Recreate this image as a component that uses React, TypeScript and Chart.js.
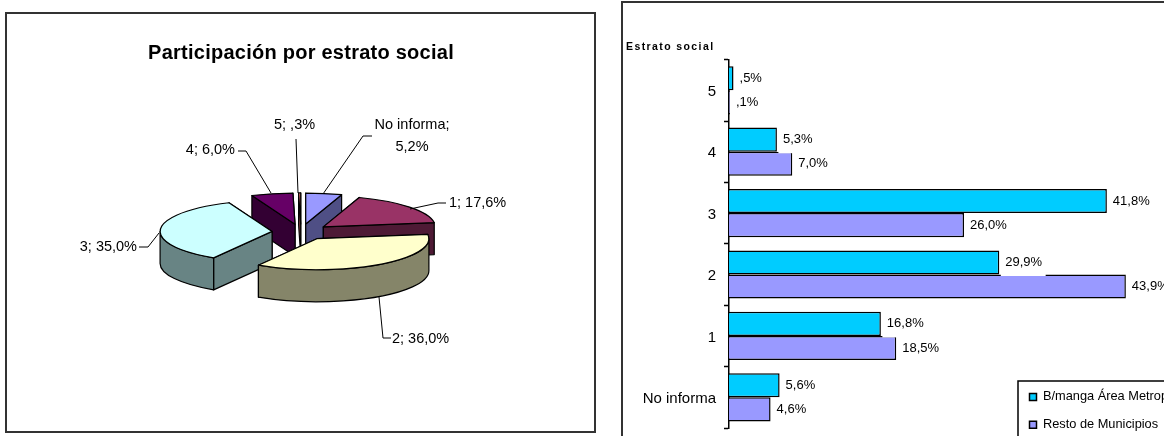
import React, { useEffect, useRef } from "react";
import { Chart, registerables } from "chart.js";

Chart.register(...registerables);

const FONT = '"Liberation Sans", Arial, sans-serif';

// ---- Data: share by stratum (pie)
const pieCategories = ["No informa", "1", "2", "3", "4", "5"];
const pieValues = [5.2, 17.6, 36.0, 35.0, 6.0, 0.3];
const pieColors = ["#9999FF", "#993366", "#FFFFCC", "#CCFFFF", "#660066", "#FF8080"];
const pieWallColors = ["#4F4F85", "#4E1A35", "#858569", "#688484", "#330033", "#804040"];

// ---- Data: by stratum and region (bars)
const barCategories = ["5", "4", "3", "2", "1", "No informa"];
const metroValues = [0.5, 5.3, 41.8, 29.9, 16.8, 5.6];
const restValues = [0.1, 7.0, 26.0, 43.9, 18.5, 4.6];
const metroLabel = "B/manga Área Metropolitana";
const restLabel = "Resto de Municipios";

// ---- Layout only (page pixels)
const LEFT_ORIGIN = { x: 6, y: 13, w: 590, h: 421 };
const RIGHT_ORIGIN = { x: 623, y: 3, w: 620, h: 480 };
const PIE_RADIUS = 112;
const PIE_TILT = 0.277;
const PIE_DEPTH = 32;
const PIE_EXPLODE = 29;

type Callout = { text: [number, number, string][]; line: [number, number][] };
const pieCallouts: Record<string, Callout> = {
  "No informa": { text: [[412, 125, "center"], [412, 147, "center"]], line: [[372, 136], [363, 136], [323, 194]] },
  "1": { text: [[449, 203, "left"]], line: [[446, 203], [438, 203], [410, 209]] },
  "2": { text: [[392, 339, "left"]], line: [[391, 338], [383, 338], [379, 297]] },
  "3": { text: [[137, 247, "right"]], line: [[139, 247], [148, 247], [159, 233]] },
  "4": { text: [[235, 150, "right"]], line: [[238, 151], [246, 151], [271, 193]] },
  "5": { text: [[274, 125, "left"]], line: [[296, 139], [298, 193]] },
};

const fmt = (v: number) => {
  const s = v.toFixed(1).replace(".", ",");
  return (s.startsWith("0") ? s.slice(1) : s) + "%";
};

const spacedTitle = (spacing: string) => ({
  id: "spacedTitle",
  beforeDraw(chart: any) {
    const tb = chart.titleBlock;
    if (!tb || tb.__patched) return;
    const orig = tb.draw.bind(tb);
    tb.__patched = true;
    tb.draw = (...args: any[]) => {
      const c = chart.ctx as any;
      c.save();
      c.letterSpacing = spacing;
      orig(...args);
      c.restore();
    };
  },
});

const pie3D = {
  id: "pie3D",
  beforeDatasetDraw(chart: any, args: any) {
    const ctx = chart.ctx as CanvasRenderingContext2D;
    const arcs: any[] = args.meta.data;
    const k = PIE_TILT;
    const info = arcs.map((el, i) => {
      const p = el.getProps(["x", "y", "startAngle", "endAngle", "outerRadius"], true);
      const mid = (p.startAngle + p.endAngle) / 2;
      const dx = Math.cos(mid) * PIE_EXPLODE;
      const dy = Math.sin(mid) * PIE_EXPLODE;
      return { el, i, ...p, dx, dy, cx: p.x + dx, cy: p.y + dy * k };
    });
    info.sort((a, b) => a.cy - b.cy);
    ctx.save();
    ctx.lineJoin = "round";
    ctx.lineWidth = 1.2;
    ctx.strokeStyle = "#000";
    for (const s of info) {
      const R = s.outerRadius;
      const pt = (t: number) => [s.cx + Math.cos(t) * R, s.cy + Math.sin(t) * R * k];
      ctx.fillStyle = pieWallColors[s.i];
      const faces = [s.startAngle, s.endAngle]
        .map((t) => ({ t, my: (s.cy + pt(t)[1]) / 2 }))
        .sort((a, b) => a.my - b.my);
      for (const f of faces) {
        const [x, y] = pt(f.t);
        ctx.beginPath();
        ctx.moveTo(s.cx, s.cy);
        ctx.lineTo(x, y);
        ctx.lineTo(x, y + PIE_DEPTH);
        ctx.lineTo(s.cx, s.cy + PIE_DEPTH);
        ctx.closePath();
        ctx.fill();
        ctx.stroke();
      }
      const a = Math.max(s.startAngle, 0);
      const b = Math.min(s.endAngle, Math.PI);
      if (b > a) {
        ctx.beginPath();
        ctx.ellipse(s.cx, s.cy, R, R * k, 0, a, b);
        ctx.ellipse(s.cx, s.cy + PIE_DEPTH, R, R * k, 0, b, a, true);
        ctx.closePath();
        ctx.fill();
        ctx.stroke();
      }
      ctx.save();
      ctx.translate(s.x, s.y);
      ctx.scale(1, k);
      ctx.translate(-s.x + s.dx, -s.y + s.dy);
      s.el.draw(ctx);
      ctx.restore();
      ctx.beginPath();
      ctx.moveTo(s.cx, s.cy);
      ctx.ellipse(s.cx, s.cy, R, R * k, 0, s.startAngle, s.endAngle);
      ctx.closePath();
      ctx.stroke();
    }
    ctx.restore();
    return false;
  },
  afterDraw(chart: any) {
    const ctx = chart.ctx as CanvasRenderingContext2D;
    ctx.save();
    ctx.font = `14.5px ${FONT}`;
    ctx.fillStyle = "#000";
    ctx.strokeStyle = "#000";
    ctx.lineWidth = 1;
    ctx.textBaseline = "middle";
    pieCategories.forEach((cat, i) => {
      const c = pieCallouts[cat];
      const full = `${cat}; ${fmt(pieValues[i])}`;
      const parts = c.text.length === 2 ? [`${cat};`, fmt(pieValues[i])] : [full];
      parts.forEach((t, j) => {
        const [x, y, align] = c.text[j];
        ctx.textAlign = align as CanvasTextAlign;
        ctx.fillText(t, x - LEFT_ORIGIN.x, y - LEFT_ORIGIN.y);
      });
      ctx.beginPath();
      c.line.forEach(([x, y], j) => {
        const px = x - LEFT_ORIGIN.x;
        const py = y - LEFT_ORIGIN.y;
        if (j === 0) ctx.moveTo(px, py);
        else ctx.lineTo(px, py);
      });
      ctx.stroke();
    });
    ctx.restore();
  },
};

const barLabels = {
  id: "barLabels",
  afterLayout(chart: any) {
    const l = chart.legend;
    if (!l) return;
    l.left = 391.5;
    l.right = 617;
    l.top = 372.5;
    l.bottom = 478;
    l.width = l.right - l.left;
    l.height = l.bottom - l.top;
  },
  afterDatasetsDraw(chart: any) {
    const ctx = chart.ctx as CanvasRenderingContext2D;
    ctx.save();
    ctx.font = `13px ${FONT}`;
    ctx.textBaseline = "middle";
    ctx.textAlign = "left";
    chart.data.datasets.forEach((ds: any, di: number) => {
      chart.getDatasetMeta(di).data.forEach((el: any, i: number) => {
        const t = fmt(ds.data[i]);
        const x = el.x + 6;
        if (di === 0) {
          ctx.fillStyle = "#fff";
          ctx.fillRect(el.x + 1.5, el.y - 10, ctx.measureText(t).width + 8, el.height / 2 + 11.5);
        }
        ctx.fillStyle = "#000";
        ctx.fillText(t, x, el.y);
      });
    });
    ctx.restore();
  },
  afterDraw(chart: any) {
    const ctx = chart.ctx as CanvasRenderingContext2D;
    ctx.save();
    ctx.strokeStyle = "#000";
    ctx.lineWidth = 1.5;
    ctx.strokeRect(395, 378, 400, 200);
    ctx.restore();
  },
};

const frame = (o: { x: number; y: number; w: number; h: number }): React.CSSProperties => ({
  position: "absolute",
  left: o.x,
  top: o.y,
  width: o.w,
  height: o.h,
  display: "block",
});

export default function App() {
  const pieRef = useRef<HTMLCanvasElement>(null);
  const barRef = useRef<HTMLCanvasElement>(null);

  useEffect(() => {
    const pie = new Chart(pieRef.current!, {
      type: "pie",
      data: {
        labels: pieCategories,
        datasets: [
          {
            data: pieValues,
            backgroundColor: pieColors,
            borderWidth: 0,
          },
        ],
      },
      options: {
        animation: false,
        responsive: false,
        radius: PIE_RADIUS,
        layout: { padding: { bottom: 43 } },
        plugins: {
          legend: { display: false },
          tooltip: { enabled: false },
          title: {
            display: true,
            text: "Participación por estrato social",
            color: "#000",
            font: { family: FONT, size: 20, weight: "bold" },
            padding: { top: 28, bottom: 8 },
          },
        },
      },
      plugins: [pie3D, spacedTitle("0.25px")],
    } as any);

    const bar = new Chart(barRef.current!, {
      type: "bar",
      data: {
        labels: barCategories,
        datasets: [
          {
            label: metroLabel,
            data: metroValues,
            backgroundColor: "#00CCFF",
            borderColor: "#000",
            borderWidth: 1.5,
          },
          {
            label: restLabel,
            data: restValues,
            backgroundColor: "#9999FF",
            borderColor: "#000",
            borderWidth: 1.5,
          },
        ],
      },
      options: {
        animation: false,
        responsive: false,
        indexAxis: "y",
        layout: { padding: { left: 3, right: 62, bottom: 55 } },
        datasets: { bar: { categoryPercentage: 0.785, barPercentage: 1 } },
        scales: {
          x: { display: false, min: 0, max: 50 },
          y: {
            afterFit: (s: any) => {
              s.width = 103;
            },
            border: { color: "#000", width: 1.5 },
            grid: {
              offset: true,
              drawOnChartArea: false,
              drawTicks: true,
              tickLength: 5,
              tickColor: "#000",
              tickWidth: 1.5,
            },
            ticks: {
              color: "#000",
              padding: 8,
              labelOffset: 1.5,
              font: { family: FONT, size: 15 },
            },
          },
        },
        plugins: {
          tooltip: { enabled: false },
          title: {
            display: true,
            text: "Estrato social",
            align: "start",
            color: "#000",
            font: { family: FONT, size: 10.5, weight: "bold" },
            padding: { top: 38, bottom: 6 },
          },
          legend: {
            display: true,
            position: "chartArea",
            align: "start",
            labels: {
              boxWidth: 7,
              boxHeight: 7,
              padding: 15,
              color: "#000",
              font: { family: FONT, size: 12.8 },
            },
          },
        },
      },
      plugins: [barLabels, spacedTitle("1.4px")],
    } as any);

    return () => {
      pie.destroy();
      bar.destroy();
    };
  }, []);

  return (
    <div
      style={{
        position: "fixed",
        left: 0,
        top: 0,
        width: 1164,
        height: 436,
        overflow: "hidden",
        background: "#fff",
      }}
    >
      <div
        style={{
          position: "absolute",
          left: 5,
          top: 12,
          width: 587,
          height: 417,
          border: "2px solid #333",
        }}
      />
      <canvas ref={pieRef} width={LEFT_ORIGIN.w} height={LEFT_ORIGIN.h} style={frame(LEFT_ORIGIN)} />
      <div
        style={{
          position: "absolute",
          left: 621,
          top: 1,
          width: 620,
          height: 480,
          border: "2px solid #333",
        }}
      />
      <canvas ref={barRef} width={RIGHT_ORIGIN.w} height={RIGHT_ORIGIN.h} style={frame(RIGHT_ORIGIN)} />
    </div>
  );
}
